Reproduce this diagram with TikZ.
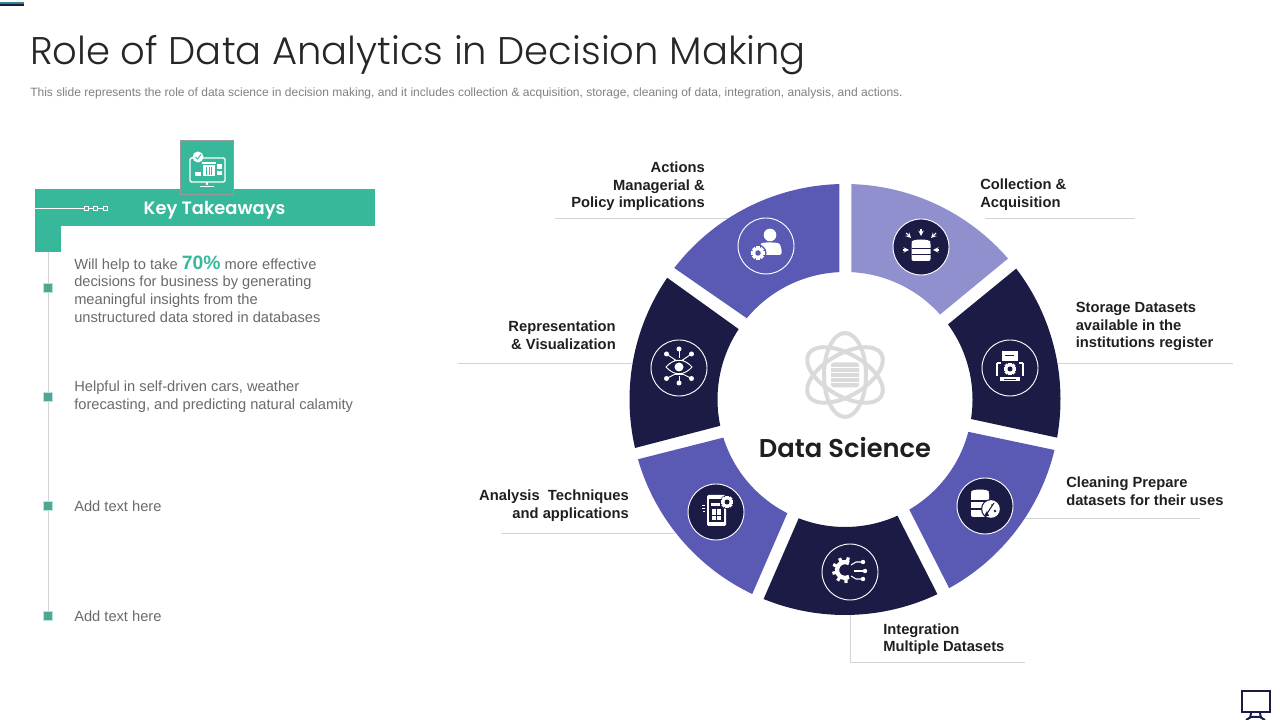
\documentclass[tikz,border=0pt]{standalone}
\usepackage{fontspec}
\setmainfont{Liberation Sans}
\newfontfamily\headfont{Poppins Light}
\newfontfamily\midfont{Poppins SemiBold}
\usepackage{tikz}
\usetikzlibrary{calc}

\definecolor{teal}{HTML}{37B89A}
\definecolor{navy}{HTML}{1B1B45}
\definecolor{violet}{HTML}{5A5AB5}
\definecolor{lilac}{HTML}{9090CF}
\definecolor{leader}{HTML}{D4D4D4}
\definecolor{bodygray}{HTML}{6A6A6A}
\definecolor{atomgray}{HTML}{DADADA}
\definecolor{markfill}{HTML}{4FA692}

\tikzset{
    steplabel/.style={inner sep=0pt, text=black!88, font=\bfseries\fontsize{11.05}{13.2}\selectfont},
    bodytext/.style={inner sep=0pt, anchor=west, align=left, text=bodygray, font=\fontsize{11}{13.2}\selectfont},
    leaderline/.style={draw=leader, line width=0.6pt},
    iconring/.style={circle, draw=white, line width=0.7pt, minimum size=42pt, inner sep=0pt},
    marker/.style={draw=teal!35, fill=markfill, line width=0.6pt, minimum size=6.5pt, inner sep=0pt},
}

% one piece of the ring: colour, outer arc from/to, inner arc from/to
\newcommand{\ringseg}[5]{
    \fill[#1, shift={(845,320.5)}] (#2:215.5) arc[start angle=#2, end angle=#3, radius=215.5]
        -- (#4:127.5) arc[start angle=#4, end angle=#5, radius=127.5] -- cycle;
}
% small gear: x, y, radius, colour of the hole
\newcommand{\gearat}[4]{
    \foreach \a in {0,45,...,315}
        \draw[white, line width=#3*0.5] (#1,#2) ++(\a:#3*0.6) -- ++(\a:#3*0.65);
    \fill[white] (#1,#2) circle (#3);
    \fill[#4] (#1,#2) circle (#3*0.5);
}
% database drum: x of centre, y of top, half width, height, colour between slabs
\newcommand{\drum}[5]{
    \fill[white, rounded corners=1.5pt] (#1-#3,#2) rectangle (#1+#3,#2-#4);
    \fill[white] (#1,#2) ellipse (#3 and 2.5);
    \draw[#5, line width=0.8pt] (#1-#3,#2-#4*0.36) -- (#1+#3,#2-#4*0.36);
    \draw[#5, line width=0.8pt] (#1-#3,#2-#4*0.68) -- (#1+#3,#2-#4*0.68);
}

\begin{document}
\begin{tikzpicture}[x=0.75pt, y=0.75pt]
    \useasboundingbox (0,0) rectangle (1280,720);

    % corner bar
    \fill[teal!70!navy] (0,718) rectangle (24,716);
    \fill[navy] (0,716) rectangle (24,714);

    % heading
    \node[anchor=west, inner sep=0pt, text=black!85, font=\headfont\fontsize{28.9}{32}\selectfont] (title) at (30,664.5) {Role of Data Analytics in Decision Making};
    \node[anchor=west, inner sep=0pt, text=gray, font=\fontsize{9.02}{10}\selectfont] (subtitle) at (30,627) {This slide represents the role of data science in decision making, and it includes collection \& acquisition, storage, cleaning of data, integration, analysis, and actions.};

    % left panel
    \draw[leader, line width=0.6pt] (48,468) -- (48,104);
    \fill[teal] (35,531) rectangle (375,494);
    \fill[teal] (35,494) rectangle (61,468);
    \node[draw=gray!80, fill=teal, minimum size=40pt, inner sep=0pt, outer sep=0pt, line width=0.5pt] (keyicon) at (207,552.5) {};
    \draw[white, line width=1pt, rounded corners=1pt] (190,562) rectangle (225,538);
    \draw[white, line width=1.6pt] (207,538) -- (207,534.5);
    \draw[white, line width=1.2pt] (200,533.5) -- (214,533.5);
    \fill[white] (198,563) circle (5.5);
    \draw[teal, line width=0.7pt] (195.5,563) -- (197.5,561) -- (201,565.5);
    \fill[white] (203,544) rectangle (215,555);
    \draw[teal, line width=0.6pt] (206.5,545) -- (206.5,553) (209,545) -- (209,553) (211.5,545) -- (211.5,553);
    \fill[white] (202,556) rectangle (216,557.5);
    \fill[white] (194.5,544) rectangle (201,548);
    \fill[white] (217,544.5) rectangle (222,549);
    \fill[white] (217,551) rectangle (222,555.5);

    \node[text=white, inner sep=0pt, font=\midfont\fontsize{13.4}{16}\selectfont] (keytitle) at (214.5,510) {Key Takeaways};
    \coordinate (wirestart) at (35,512);
    \node[draw=white, minimum size=3pt, inner sep=0pt, line width=0.4pt] (wirea) at (86,512) {};
    \node[draw=white, minimum size=3pt, inner sep=0pt, line width=0.4pt] (wireb) at (95,512) {};
    \node[draw=white, minimum size=3pt, inner sep=0pt, line width=0.4pt] (wirec) at (105,512) {};
    \draw[white, line width=0.4pt] (wirestart) -- (wirea) -- (wireb) -- (wirec);

    \node[marker] (marka) at (48,432) {};
    \node[marker] (markb) at (48,323) {};
    \node[marker] (markc) at (48,214) {};
    \node[marker] (markd) at (48,104) {};

    \node[bodytext] (takea) at (74,431) {Will help to take {\fontsize{14.5}{14.5}\selectfont\bfseries\textcolor{teal}{70\%}} more effective\\decisions for business by generating\\meaningful insights from the\\unstructured data stored in databases};
    \node[bodytext] (takeb) at (74,323) {Helpful in self-driven cars, weather\\forecasting, and predicting natural calamity};
    \node[bodytext] (takec) at (74,214) {Add text here};
    \node[bodytext] (taked) at (74,104) {Add text here};

    % leaders sit under the ring
    \coordinate (aa) at (555,502);  \coordinate (ab) at (730,502);
    \coordinate (ba) at (985,502);  \coordinate (bb) at (1135,502);
    \coordinate (ca) at (1057,357); \coordinate (cb) at (1233,357);
    \coordinate (da) at (1020,202); \coordinate (db) at (1200,202);
    \coordinate (ea) at (850,105);  \coordinate (eb) at (850,58);  \coordinate (ec) at (1025,58);
    \coordinate (fa) at (501,187);  \coordinate (fb) at (675,187);
    \coordinate (ga) at (458,357);  \coordinate (gb) at (632,357);
    \draw[leaderline] (aa) -- (ab);
    \draw[leaderline] (ba) -- (bb);
    \draw[leaderline] (ca) -- (cb);
    \draw[leaderline] (da) -- (db);
    \draw[leaderline] (ea) -- (eb) -- (ec);
    \draw[leaderline] (fa) -- (fb);
    \draw[leaderline] (ga) -- (gb);

    % the ring
    \ringseg{lilac}{88.3}{40.85}{41.8}{87.1}
    \ringseg{navy}{37.4}{-10.2}{-8.8}{36.1}
    \ringseg{violet}{-13.55}{-61.1}{-59.7}{-14.7}
    \ringseg{navy}{-64.6}{-112.2}{-111.3}{-65.7}
    \ringseg{violet}{-115.5}{-163.9}{-162.6}{-116.9}
    \ringseg{navy}{193}{145.6}{146.5}{191.9}
    \ringseg{violet}{142.4}{91.5}{92.5}{140.4}

    \node[iconring, fill=navy] (ringa) at (921,473) {};
    \node[iconring] (ringb) at (1010,352) {};
    \node[iconring, fill=navy] (ringc) at (985,214) {};
    \node[iconring] (ringd) at (850,148) {};
    \node[iconring, fill=navy] (ringe) at (716,208) {};
    \node[iconring] (ringf) at (679,352) {};
    \node[iconring] (ringg) at (766,474) {};

    % collection icon
    \begin{scope}[shift={(ringa)}]
        \drum{0}{5}{9.5}{19}{navy}
        \draw[->, white, line width=0.8pt, >=stealth] (0,18) -- (0,11);
        \draw[->, white, line width=0.8pt, >=stealth] (-15,14) -- (-10,9);
        \draw[->, white, line width=0.8pt, >=stealth] (15,14) -- (10,9);
        \draw[->, white, line width=0.8pt, >=stealth] (-18,-3) -- (-12,-3);
        \draw[->, white, line width=0.8pt, >=stealth] (18,-3) -- (12,-3);
    \end{scope}

    % storage icon
    \begin{scope}[shift={(ringb)}]
        \fill[white] (-8,17) rectangle (8,7);
        \draw[navy, line width=0.7pt] (-5,13) -- (4,13);
        \draw[white, line width=1pt] (-13,5) -- (-13,-8) (13,5) -- (13,-8) (-13,5) -- (-9,5) (13,5) -- (9,5);
        \gearat{0}{-1}{5}{navy}
        \fill[white] (-10,-9) rectangle (10,-13);
        \draw[navy, line width=0.6pt] (-6,-11) -- (6,-11);
    \end{scope}

    % cleaning icon
    \begin{scope}[shift={(ringc)}]
        \drum{-5}{14}{9}{25}{navy}
        \fill[navy] (6,-3) circle (10);
        \fill[white] (6,-3) circle (8.8);
        \draw[navy, line width=0.8pt] (1,-9) -- (9,3);
        \fill[navy] (-1,-10) -- (4,-10) -- (2,-5) -- cycle;
        \fill[navy] (10,-5) circle (1.4);
        \fill[navy] (7,1) circle (0.9);
    \end{scope}

    % integration icon
    \begin{scope}[shift={(ringd)}]
        \draw[white, line width=3.2pt] (-1,8.9) arc[start angle=60, end angle=300, radius=8];
        \foreach \a in {75,115,...,300}
            \draw[white, line width=2.4pt] (-5,2) ++(\a:9) -- ++(\a:4);
        \fill[white] (13,10) circle (2.2);
        \fill[white] (15,1) circle (2.2);
        \fill[white] (13,-7) circle (2.2);
        \draw[white, line width=0.8pt] (1,7) -- (6,10) -- (13,10);
        \draw[white, line width=0.8pt] (4,1) -- (15,1);
        \draw[white, line width=0.8pt] (1,-4) -- (6,-7) -- (13,-7);
    \end{scope}

    % analysis icon
    \begin{scope}[shift={(ringe)}]
        \fill[white, rounded corners=1pt] (-9,17) rectangle (10,-14);
        \fill[navy] (-7,13) rectangle (8,-10);
        \fill[white] (-4,3) rectangle (5,-8);
        \draw[navy, line width=0.6pt] (0,3) -- (0,-8) (-4,-3) -- (5,-3);
        \fill[white] (-5,9) rectangle (4,6);
        \fill[navy] (11,10) circle (7);
        \gearat{11}{10}{5}{navy}
        \draw[white, line width=0.7pt] (-14,7) -- (-11,7) (-14,4) -- (-11,4) (-13,1) -- (-11,1);
    \end{scope}

    % representation icon
    \begin{scope}[shift={(ringf)}]
        \draw[white, line width=0.7pt] (-13,1) .. controls (-5,10) and (5,10) .. (13,1) .. controls (5,-8) and (-5,-8) .. cycle;
        \fill[white] (0,1) circle (4.5);
        \foreach \dx/\dy in {-12.5/14,12.5/14,-12.5/-10.5,12.5/-10.5,0/19,0/-15} {
            \fill[white] (\dx,\dy) circle (2.5);
            \draw[white, line width=0.7pt] (\dx,\dy) -- (\dx*0.25,\dy*0.55);
        }
        \draw[white, line width=0.7pt] (-5,8) -- (5,8) (-5,-6) -- (5,-6);
    \end{scope}

    % actions icon
    \begin{scope}[shift={(ringg)}]
        \fill[white] (4,11) circle (6.3);
        \fill[white, rounded corners=2pt] (-6,-9) -- (-6,0) .. controls (-4,4) and (12,4) .. (15,0) -- (16,-9) -- cycle;
        \fill[violet] (-8,-7) circle (8.5);
        \gearat{-8}{-7}{5.5}{violet}
    \end{scope}

    % centre of the ring
    \begin{scope}[shift={(845,345)}]
        \foreach \r in {0,60,-60}
            \draw[atomgray, line width=3pt, rotate=\r] (0,0) ellipse (21 and 42);
        \fill[white] (0,0) circle (18);
        \fill[atomgray, rounded corners=2pt] (-14,-12.5) rectangle (14,12.5);
        \foreach \s in {-7.5,-2.5,2.5,7.5}
            \draw[white, line width=0.7pt] (-14,\s) -- (14,\s);
    \end{scope}
    \node[inner sep=0pt, text=black!88, font=\midfont\fontsize{19.3}{22}\selectfont] (core) at (845,272.5) {Data Science};

    % labels
    \node[steplabel, anchor=east, align=right] (actions) at (705,533.5) {Actions\\Managerial \&\\Policy implications};
    \node[steplabel, anchor=west, align=left] (collect) at (980,525.5) {Collection \&\\Acquisition};
    \node[steplabel, anchor=west, align=left] (store) at (1075.5,393.5) {Storage Datasets\\available in the\\institutions register};
    \node[steplabel, anchor=west, align=left] (clean) at (1066,228.5) {Cleaning Prepare\\datasets for their uses};
    \node[steplabel, anchor=west, align=left] (integrate) at (883,81) {Integration\\Multiple Datasets};
    \node[steplabel, anchor=east, align=right] (analyse) at (629,214.5) {Analysis~~Techniques\\and applications};
    \node[steplabel, anchor=east, align=right] (present) at (616,385) {Representation\\\& Visualization};

    % monitor in the corner
    \draw[navy, line width=1.5pt] (1241.5,28.5) rectangle (1269.5,7.5);
    \draw[navy, line width=1.5pt] (1251,7) -- (1250,2) (1260,7) -- (1261,2);
    \draw[navy, line width=1.5pt] (1246,0) -- (1251,3) -- (1260,3) -- (1265,0);
\end{tikzpicture}
\end{document}
